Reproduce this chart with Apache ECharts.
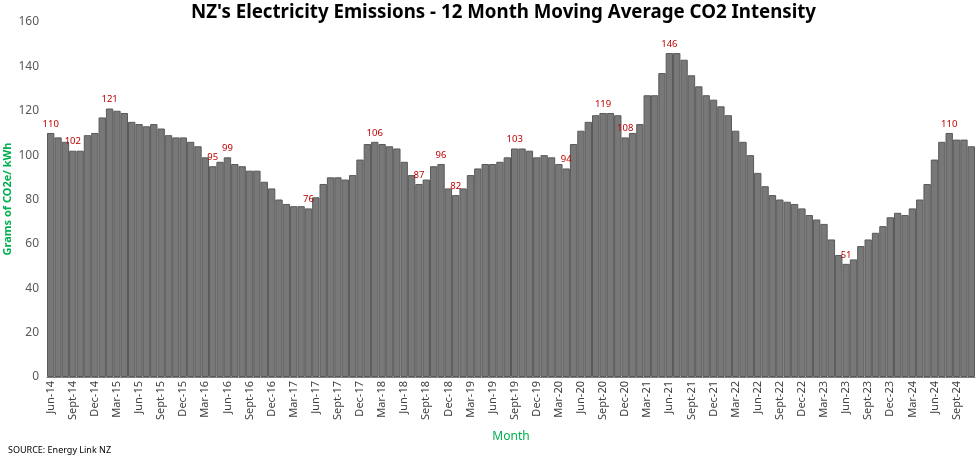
<!DOCTYPE html>
<html>
<head>
<meta charset="utf-8">
<script src="https://cdn.jsdelivr.net/npm/echarts@6/dist/echarts.min.js"></script>
<style>html,body{margin:0;padding:0;background:#fff}#c{width:977px;height:464px}</style>
</head>
<body>
<div id="c"></div>
<script>
const months = [
"Jun-14","Jul-14","Aug-14","Sept-14","Oct-14","Nov-14","Dec-14",
"Jan-15","Feb-15","Mar-15","Apr-15","May-15","Jun-15","Jul-15","Aug-15","Sept-15","Oct-15","Nov-15","Dec-15",
"Jan-16","Feb-16","Mar-16","Apr-16","May-16","Jun-16","Jul-16","Aug-16","Sept-16","Oct-16","Nov-16","Dec-16",
"Jan-17","Feb-17","Mar-17","Apr-17","May-17","Jun-17","Jul-17","Aug-17","Sept-17","Oct-17","Nov-17","Dec-17",
"Jan-18","Feb-18","Mar-18","Apr-18","May-18","Jun-18","Jul-18","Aug-18","Sept-18","Oct-18","Nov-18","Dec-18",
"Jan-19","Feb-19","Mar-19","Apr-19","May-19","Jun-19","Jul-19","Aug-19","Sept-19","Oct-19","Nov-19","Dec-19",
"Jan-20","Feb-20","Mar-20","Apr-20","May-20","Jun-20","Jul-20","Aug-20","Sept-20","Oct-20","Nov-20","Dec-20",
"Jan-21","Feb-21","Mar-21","Apr-21","May-21","Jun-21","Jul-21","Aug-21","Sept-21","Oct-21","Nov-21","Dec-21",
"Jan-22","Feb-22","Mar-22","Apr-22","May-22","Jun-22","Jul-22","Aug-22","Sept-22","Oct-22","Nov-22","Dec-22",
"Jan-23","Feb-23","Mar-23","Apr-23","May-23","Jun-23","Jul-23","Aug-23","Sept-23","Oct-23","Nov-23","Dec-23",
"Jan-24","Feb-24","Mar-24","Apr-24","May-24","Jun-24","Jul-24","Aug-24","Sept-24","Oct-24","Nov-24"
];
const intensity = [
110,108,106,102,102,109,110,117,121,120,119,115,114,113,114,112,109,108,108,106,104,99,95,97,99,96,95,93,93,88,85,80,78,77,77,76,81,87,
90,90,89,91,98,105,106,105,104,103,97,91,87,89,95,96,85,82,85,91,94,96,96,97,99,103,103,102,99,100,99,96,94,105,111,115,118,119,119,118,108,110,114,
127,127,137,146,146,143,136,131,127,125,122,118,111,106,100,92,86,82,80,79,78,76,73,71,69,62,55,51,53,59,62,65,68,
72,74,73,76,80,87,98,106,110,107,107,104
];
// indices of bars that carry a value label
const labelledIdx = [0,3,8,22,24,35,44,50,53,55,63,70,75,78,84,108,122];
const yTicks = [0,20,40,60,80,100,120,140,160];
const titleText = "NZ's Electricity Emissions - 12 Month Moving Average CO2 Intensity";
const yName = "Grams of CO2e/ kWh";
const xName = "Month";
const sourceText = "SOURCE: Energy Link NZ";

const seriesData = intensity.map((v, i) => {
  const d = { value: v };
  if (labelledIdx.includes(i)) {
    d.label = { show: true, position: 'top', distance: 4, color: '#c00000', fontSize: 9.5, fontFamily: 'Noto Sans' };
  }
  return d;
});

const chart = echarts.init(document.getElementById('c'), null, { renderer: 'canvas' });
chart.setOption({
  animation: false,
  backgroundColor: '#ffffff',
  title: {
    text: titleText,
    left: 186, top: -2,
    textStyle: { fontFamily: 'Noto Sans', fontWeight: 'bold', fontSize: 18.7, color: '#000000' }
  },
  graphic: [
    { type: 'text', left: 8, top: 446, style: { text: sourceText, fontFamily: 'Noto Sans', fontSize: 9, fill: '#000000' } },
    { type: 'text', x: 8, y: 199, rotation: Math.PI / 2,
      style: { text: yName, fontFamily: 'Noto Sans', fontSize: 11, fontWeight: 'bold', fill: '#00b050', align: 'center', verticalAlign: 'middle' } }
  ],
  grid: { left: 47, right: 2, top: 22, bottom: 87, containLabel: false, outerBoundsMode: 'none' },
  xAxis: {
    type: 'category',
    data: months,
    name: xName,
    nameLocation: 'middle',
    nameGap: 54,
    nameTextStyle: { color: '#00b050', fontFamily: 'Noto Sans', fontSize: 12 },
    axisLine: { show: true, lineStyle: { color: '#7f7f7f', width: 1 } },
    axisTick: { show: false },
    axisLabel: {
      interval: 2, rotate: 90, color: '#404040', fontFamily: 'Noto Sans', fontSize: 11, margin: 4
    }
  },
  yAxis: {
    type: 'value',
    min: yTicks[0], max: yTicks[yTicks.length - 1], interval: 20,
    axisLine: { show: false },
    axisTick: { show: false },
    splitLine: { show: false },
    axisLabel: { color: '#595959', fontFamily: 'Noto Sans', fontSize: 12, margin: 8 }
  },
  series: [{
    type: 'bar',
    data: seriesData,
    barCategoryGap: '0%',
    itemStyle: { color: '#787878', borderColor: '#595959', borderWidth: 1 }
  }]
});
</script>
</body>
</html>
